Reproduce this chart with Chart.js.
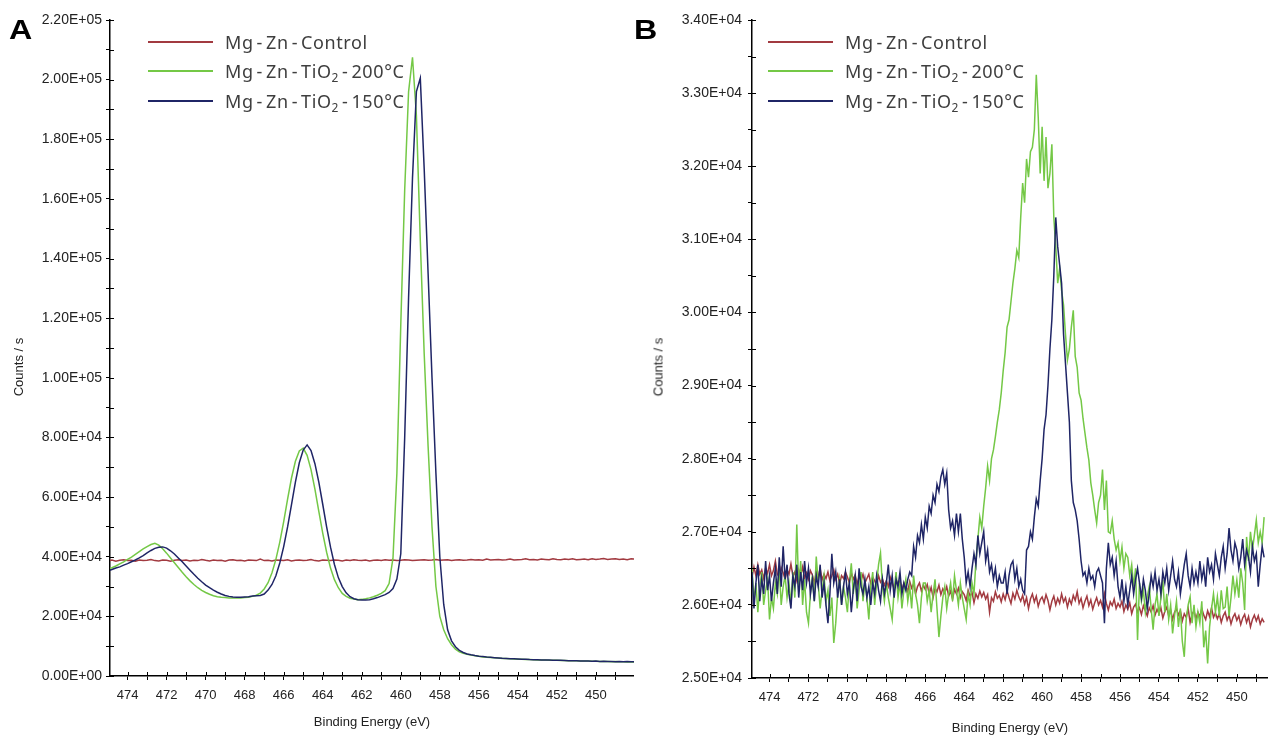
<!DOCTYPE html>
<html>
<head>
<meta charset="utf-8">
<script src="https://cdn.jsdelivr.net/npm/chart.js@4.4.1/dist/chart.umd.min.js"></script>
<style>
  body { margin: 0; width: 1268px; height: 736px; overflow: hidden; background: #fff; position: relative; }
  .panel { position: absolute; top: 0; width: 634px; height: 736px; }
  #panelA { left: 0; }
  #panelB { left: 634px; }
  .tag { position: absolute; top: 14px; font: bold 28px "Liberation Sans", Arial, sans-serif; color: #000; transform: scaleX(1.15); transform-origin: left; }
  .ytitle { position: absolute; top: 367px; font: 13px "Liberation Sans", Arial, sans-serif; color: #222; white-space: nowrap; transform: translate(-50%, -50%) rotate(-90deg); }
  .legend { position: absolute; top: 27px; font: 18px "Noto Sans", sans-serif; color: #3e3e3e; letter-spacing: 0.6px; }
  .legend .row { height: 29.5px; display: flex; align-items: center; white-space: nowrap; }
  .legend .ln { display: inline-block; width: 65px; height: 2px; margin-right: 12px; }
  .legend .hy { margin: 0 3px; }
  .legend sub { font-size: 12px; vertical-align: -4px; line-height: 0; }
</style>
</head>
<body>
<div class="panel" id="panelA">
  <canvas id="chartA" width="634" height="736"></canvas>
  <div class="tag" style="left:9px">A</div>
  <div class="ytitle" style="left:18px">Counts / s</div>
  <div class="legend" id="legendA" style="left:148px"></div>
</div>
<div class="panel" id="panelB">
  <canvas id="chartB" width="634" height="736"></canvas>
  <div class="tag" style="left:0px">B</div>
  <div class="ytitle" style="left:24px">Counts / s</div>
  <div class="legend" id="legendB" style="left:134px"></div>
</div>
<script>
// Ti 2p spectra, binding energy grid (eV): start and channel step
const seriesNames = ["Mg-Zn-Control", "Mg-Zn-TiO₂-200°C", "Mg-Zn-TiO₂-150°C"];
const seriesColors = ["#a23a40", "#74c846", "#1f2566"];

// ---- panel A, 475.0 -> 448.0 eV, 0.2 eV steps (counts/s)
const startA = 475.0, stepA = 0.2;
const controlA = [
  38600,38900,38500,38800,39000,38700,38800,38500,38900,38700,
  38800,39100,38700,38600,38900,38800,38500,38800,39000,38700,
  38900,38600,38800,38700,39100,38800,38600,38900,38700,38800,
  38500,38900,39000,38700,38800,38600,38900,38800,38700,39200,
  38700,38800,38600,38900,38800,38700,39000,38600,38800,38900,
  38700,38800,39100,38700,38600,38900,38800,38700,38900,38800,
  38600,38900,38700,39000,38800,38700,38900,38600,38800,38900,
  38700,39000,38800,38900,38700,38800,39000,38900,38700,38800,
  38900,39000,38800,38900,39100,38800,38900,39000,38700,38900,
  39000,38800,38900,39100,38900,39000,38800,39200,38900,39000,
  39100,38900,39000,39200,38900,39000,39100,39300,39000,39100,
  38900,39200,39100,39000,39300,39100,39000,39200,39100,39300,
  39000,39100,39200,39000,39300,39100,39200,39400,39100,39200,
  39300,39100,39200,39000,39300,39200
];
const ti200A = [
  35800,36300,36900,37600,38300,39100,39900,40800,41700,42600,
  43400,44100,44500,43900,42700,41200,39600,38000,36400,34800,
  33300,31900,30700,29600,28700,28000,27400,26900,26600,26400,
  26300,26200,26200,26200,26200,26300,26400,26700,27100,27800,
  29200,31300,34600,39100,44900,51800,59300,66400,72000,75500,
  76400,74000,69200,62700,55200,47900,41500,36200,32300,29600,
  27700,26700,26100,25800,25600,25700,25900,26200,26600,27100,
  27700,28600,31000,39500,68000,118000,163000,196000,207500,188000,
  146000,108000,77000,50000,30000,20000,15500,12500,10500,9000,
  8100,7600,7300,7000,6800,6600,6400,6300,6200,6100,
  6000,5900,5850,5800,5700,5650,5600,5550,5500,5450,
  5400,5400,5350,5300,5300,5250,5200,5200,5150,5100,
  5100,5050,5000,5000,4950,4950,4900,4850,4900,4800,
  4850,4750,4800,4700,4750,4700
];
const ti150A = [
  35300,35700,36200,36600,37200,37700,38300,38900,39600,40400,
  41300,42100,42800,43200,43300,42900,42000,40900,39600,38300,
  36900,35500,34100,32800,31600,30500,29600,28800,28100,27500,
  27000,26700,26500,26400,26400,26500,26600,26800,26900,27000,
  27500,28800,30700,33600,37900,43400,50000,57500,65000,71500,
  75800,77500,75600,71200,65000,57600,50000,43200,37400,33000,
  30000,27900,26600,25900,25600,25500,25450,25600,25900,26300,
  26800,27300,28000,29300,32500,41000,80000,127000,167000,196000,
  200500,170000,135000,100000,68000,40000,24000,15500,11800,9800,
  8600,7900,7400,7100,6850,6650,6500,6350,6250,6150,
  6050,5950,5900,5800,5750,5700,5600,5600,5500,5450,
  5450,5400,5350,5350,5300,5250,5250,5200,5150,5150,
  5100,5050,5050,5000,4950,5000,4900,4950,4850,4900,
  4800,4900,4750,4850,4750,4800
];

// ---- panel B, 475.0 -> 448.6 eV, 0.1 eV steps (counts/s)
const startB = 475.0, stepB = 0.1;
const controlB = [
  26450,26380,26520,26400,26550,26420,26480,26360,26500,26430,
  26550,26400,26470,26600,26420,26380,26510,26440,26350,26480,
  26420,26560,26390,26450,26330,26480,26400,26520,26370,26440,
  26350,26470,26410,26300,26450,26380,26500,26340,26420,26360,
  26450,26330,26400,26480,26350,26420,26290,26400,26360,26450,
  26380,26300,26440,26350,26410,26280,26390,26330,26420,26300,
  26360,26420,26290,26380,26330,26260,26400,26310,26350,26270,
  26330,26250,26380,26300,26220,26350,26280,26330,26200,26300,
  26260,26180,26320,26230,26290,26150,26250,26300,26190,26270,
  26210,26280,26150,26240,26100,26230,26180,26270,26140,26220,
  26160,26250,26120,26190,26080,26210,26150,26230,26100,26180,
  26140,26060,26200,26120,26170,26030,26150,26090,26190,26110,
  26170,26080,26140,25900,26100,26050,26180,26090,26130,26040,
  26150,26070,26190,26100,26020,26160,26080,26200,26110,26050,
  26130,26010,26100,25950,26080,26150,26040,26120,25980,26070,
  26110,26030,26140,26060,25930,26050,26120,26000,26090,26020,
  26150,26040,26100,25970,26080,26010,26130,26060,26180,26020,
  26090,25960,26050,26120,25990,26070,25940,26030,26100,26000,
  26060,25970,26150,26020,25930,26040,25990,26080,25950,26020,
  25970,26050,25910,26000,25940,26030,25880,25970,26010,25900,
  25960,25870,25990,25920,25850,25960,25900,25990,25860,25940,
  25880,25960,25820,25910,25970,25850,25930,25800,25900,25950,
  25860,25920,25780,25880,25830,25950,25760,25870,25920,25810,
  25900,25840,25950,25860,25800,25920,25840,25960,25830,25890,
  25810,25880,25760,25850,25900,25790,25860,25740,25830,25880,
  25790,25850,25730,25820,25870,25760,25840,25700,25800,25860,
  25780,25850,25740,25810,25760
];
const ti200B = [
  26100,26500,26050,26300,25900,26250,26450,26000,26200,26350,
  25800,26100,25950,26300,26150,26500,26000,26250,26400,26100,
  26300,26000,26450,26100,27100,26200,26600,26000,26350,25900,
  25750,26150,26400,26050,26660,26300,25950,26200,26400,26050,
  26200,25850,26100,25480,25750,26150,26350,26000,26250,26100,
  25900,26300,26570,26150,26400,25950,26200,26450,26050,26300,
  26100,25800,26250,26450,26000,26300,26550,26710,26250,26050,
  26300,26100,25950,25800,26200,26450,26100,26300,25950,26200,
  26350,26050,26250,25950,26400,26150,26000,25750,26100,26300,
  26300,26050,26200,25900,26150,26350,25950,25560,25850,26100,
  26250,25950,26150,26300,26050,26400,26200,26000,26300,26100,
  25950,25800,26150,26000,26300,26150,26600,26900,27200,27050,
  27350,27600,27900,27700,28000,28120,28300,28500,28670,28900,
  29200,29450,29800,29900,30150,30400,30600,30850,30750,31300,
  31770,31500,32100,31850,32200,32260,32500,33250,32670,31900,
  32540,31800,32400,31700,31900,32300,31300,30900,30400,30600,
  30300,30100,29700,29350,29500,29800,30030,29400,29250,28900,
  28800,28550,28350,28150,27980,27670,27500,27300,27120,27400,
  27500,27850,27300,27700,27000,26980,27150,26900,26750,26850,
  26600,26790,26500,26700,26650,26400,26550,26250,26500,25520,
  26300,26050,26200,25900,26110,26250,25950,25660,26000,26150,
  25850,26100,26340,25900,26150,25800,26000,25610,25850,26050,
  25700,25950,25500,25290,25800,26000,26110,25750,26000,25700,
  25900,25750,26050,25420,25650,25200,25700,25950,26150,25900,
  26110,25850,26200,25950,25970,26250,25850,26100,26400,26150,
  26340,26100,26500,26300,25930,26930,26600,27000,26750,26950,
  27160,26850,27000,26850,27200
];
const ti150B = [
  26150,26450,25950,26300,26550,26050,26350,26150,26600,26200,
  26400,26050,26300,26500,26150,26650,26250,26800,26350,26550,
  26150,25950,26400,26250,26550,26100,26450,26200,26600,26300,
  26500,26150,26350,26050,26400,26250,26550,26100,26300,26000,
  25750,26150,26700,26300,26450,26100,26350,26000,26250,26450,
  26150,26300,25900,26200,26400,26050,26500,26250,26150,26350,
  26100,26250,26000,26300,26150,26400,26200,26050,26350,26150,
  26300,26550,26200,26400,26100,26350,26250,26450,26150,26300,
  26200,26350,26450,26400,26800,26650,26950,26850,27100,26900,
  27200,27050,27350,27250,27500,27400,27650,27550,27750,27850,
  27650,27800,27300,27050,27150,26950,27250,27000,27250,26900,
  26650,26300,26450,26250,26500,26700,26550,26950,26700,26850,
  27000,26600,26750,26450,26550,26350,26500,26250,26400,26300,
  26300,26450,26150,26400,26550,26600,26350,26500,26250,26350,
  26200,26150,26750,26800,27000,26900,27200,27450,27350,27700,
  28000,28400,28600,29000,29500,29900,30500,31300,30900,30650,
  30400,29700,29300,28900,28500,27700,27400,27300,27150,26900,
  26600,26400,26450,26300,26500,26350,26400,26250,26450,26500,
  26400,26300,25750,26500,26850,26550,26650,26400,26600,26250,
  26100,26350,26050,26250,26000,26200,26400,26150,26350,26500,
  26300,26100,26350,26200,25950,26150,26400,26250,26450,26200,
  26350,26150,26450,26300,26500,26200,26400,26600,26350,26250,
  26450,26150,26350,26550,26700,26400,26250,26500,26300,26450,
  26300,26600,26350,26500,26250,26650,26450,26550,26350,26700,
  26550,26400,26650,26800,26500,26700,27050,26750,26600,26850,
  26750,26500,26650,26900,26550,26750,26650,26450,26800,26600,
  26700,26250,26550,26800,26650
];

const fmtExp = v => {
  const [m, e] = Number(v).toExponential(2).split("e");
  const n = Number(e);
  return m + "E" + (n < 0 ? "-" : "+") + String(Math.abs(n)).padStart(2, "0");
};

// short tick marks on the inner side of both axes, like the original software
const innerTicks = {
  id: "innerTicks",
  afterDraw(chart) {
    const { ctx, chartArea: a, scales: { x, y } } = chart;
    ctx.save();
    ctx.strokeStyle = "#000";
    ctx.lineWidth = 1;
    ctx.beginPath();
    x.ticks.forEach(t => {
      const px = Math.round(x.getPixelForValue(t.value)) + 0.5;
      ctx.moveTo(px, a.bottom);
      ctx.lineTo(px, a.bottom - 4);
    });
    y.ticks.forEach(t => {
      const py = Math.round(y.getPixelForValue(t.value)) + 0.5;
      ctx.moveTo(a.left, py);
      ctx.lineTo(a.left + 4, py);
    });
    ctx.stroke();
    ctx.restore();
  }
};

const xFont = { family: "Liberation Sans", size: 13 };
const yFont = { family: "Liberation Sans", size: 14 };

function makeChart(id, start, step, series, cfg) {
  const datasets = series.map((vals, k) => ({
    label: seriesNames[k],
    data: vals.map((v, i) => ({ x: +(start - i * step).toFixed(2), y: v })),
    borderColor: seriesColors[k],
    borderWidth: 1.5,
    pointRadius: 0,
    tension: 0,
    order: 3 - k,
  }));
  return new Chart(document.getElementById(id), {
    type: "line",
    data: { datasets },
    plugins: [innerTicks],
    options: {
      responsive: false,
      animation: false,
      devicePixelRatio: 1,
      layout: { padding: { top: 20, right: 0, left: 0, bottom: 0 } },
      plugins: { legend: { display: false }, tooltip: { enabled: false } },
      scales: {
        x: {
          type: "linear",
          reverse: true,
          min: cfg.xMin,
          max: cfg.xMax,
          afterFit: s => { s.height = cfg.xH; },
          afterBuildTicks: s => {
            const t = [];
            for (let v = Math.ceil(s.min); v <= Math.floor(s.max); v++) t.push({ value: v });
            s.ticks = t;
          },
          ticks: {
            autoSkip: false, maxRotation: 0, padding: 8, color: "#222", font: xFont,
            callback: v => (Math.round(v) % 2 === 0 ? String(Math.round(v)) : ""),
          },
          grid: { drawOnChartArea: false, color: "#000", tickLength: 4 },
          border: { color: "#000", width: 1.5 },
          title: { display: true, text: "Binding Energy (eV)", color: "#222", font: xFont, padding: { top: 0, bottom: cfg.xTitlePad } },
        },
        y: {
          min: cfg.yMin,
          max: cfg.yMax,
          afterFit: s => { s.width = cfg.yW; },
          ticks: {
            stepSize: cfg.yStep, autoSkip: false, maxTicksLimit: 100, padding: cfg.yPad, color: "#222", font: yFont,
            callback: v => (Math.round(v - cfg.yMin) % cfg.yLabelStep === 0 ? fmtExp(v) : ""),
          },
          grid: { drawOnChartArea: false, color: "#000", tickLength: 4 },
          border: { color: "#000", width: 1.5 },
        },
      },
    },
  });
}

function buildLegend(id) {
  const box = document.getElementById(id);
  box.innerHTML = seriesNames.map((n, k) => {
    const txt = n.replace(/-/g, '<span class="hy">-</span>').replace("₂", "<sub>2</sub>");
    return `<div class="row"><span class="ln" style="background:${seriesColors[k]}"></span><span>${txt}</span></div>`;
  }).join("");
}

makeChart("chartA", startA, stepA, [controlA, ti200A, ti150A], {
  xMin: 448.05, xMax: 474.9, xH: 60, xTitlePad: 6,
  yMin: 0, yMax: 220000, yStep: 10000, yLabelStep: 20000, yW: 110, yPad: 4,
});
makeChart("chartB", startB, stepB, [controlB, ti200B, ti150B], {
  xMin: 448.4, xMax: 474.9, xH: 58, xTitlePad: 0,
  yMin: 25000, yMax: 34000, yStep: 500, yLabelStep: 1000, yW: 118, yPad: 6,
});
buildLegend("legendA");
buildLegend("legendB");
</script>
</body>
</html>
